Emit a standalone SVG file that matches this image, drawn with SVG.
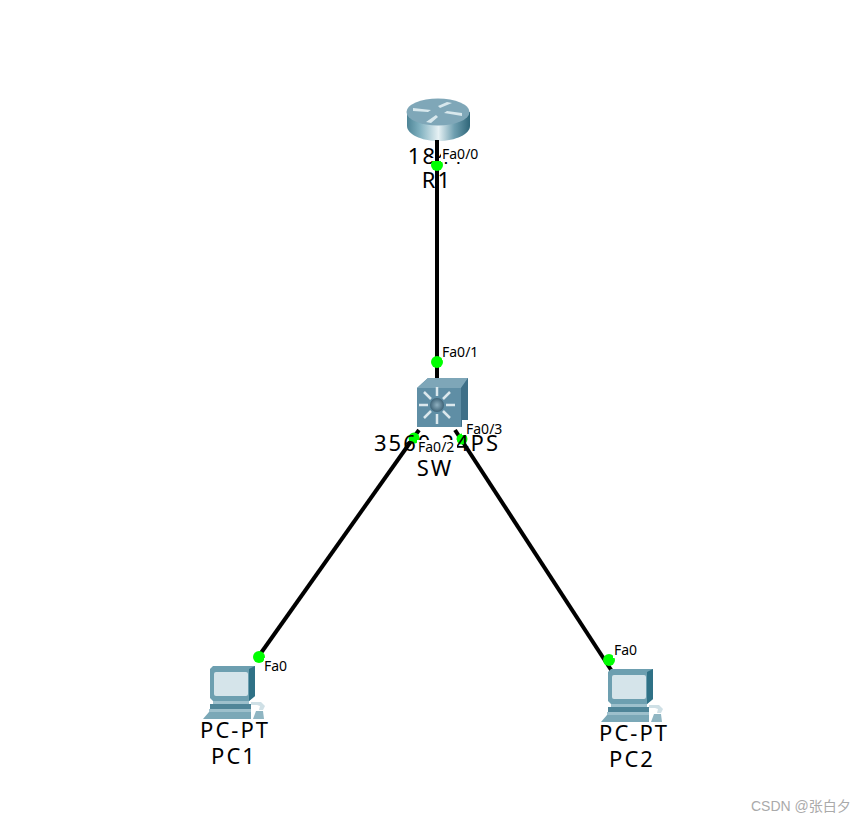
<svg xmlns="http://www.w3.org/2000/svg" width="866" height="822" viewBox="0 0 866 822">
<style>
.lbl{font-family:"Noto Sans","Liberation Sans",Arial,sans-serif;font-size:22px;fill:#000;text-anchor:middle;letter-spacing:2px}
.port{font-family:"Noto Sans","Liberation Sans",Arial,sans-serif;font-size:14px;fill:#000}
.bg{fill:#fff}
.link{stroke:#000;stroke-width:4;fill:none}
.dot{fill:#0f0}
</style>
<defs>
<linearGradient id="rg" x1="0" x2="1" y1="0" y2="0">
<stop offset="0" stop-color="#4d8496"/><stop offset=".2" stop-color="#7fb0bf"/><stop offset=".5" stop-color="#e6f1f4"/><stop offset=".75" stop-color="#6f9fb0"/><stop offset="1" stop-color="#2f6679"/>
</linearGradient>
<radialGradient id="hub"><stop offset="0" stop-color="#8fb0c0"/><stop offset="1" stop-color="#3f6478"/></radialGradient>
<g id="pc">
<path d="M11 1L14 -2H56V28L50 33H14L11 30Z" fill="#6d9fb0"/>
<path d="M50 1L56 -2V28L50 33Z" fill="#2f7186"/>
<rect x="15" y="4" width="34" height="24" rx="2" fill="#d5e4ea"/>
<path d="M14 33H50V36H14Z" fill="#9dc0cc"/>
<path d="M11 36H52V41H11Z" fill="#4f8598"/>
<path d="M10 41H52V44H10Z" fill="#9dc0cc"/>
<path d="M4 51L10 44H52V51Z" fill="#7ba8b7"/>
<path d="M52 34H62L66 38L64 42H60L61 38L58 37H52Z" fill="#cfe0e6"/>
<path d="M57 43H64L65 51H54Z" fill="#8fb5c2"/>
</g>
</defs>
<rect width="866" height="822" fill="#fff"/>
<g id="connectors">
<path class="link" d="M437 140V378"/>
<path class="link" d="M419 430L256 660"/>
<path class="link" d="M455 430L617 679"/>
</g>
<g id="R1">
<path d="M407 112V126C407 134 421 141 438 141C456 141 470 134 470 126V112Z" fill="url(#rg)"/>
<ellipse cx="438" cy="112" rx="31.500" ry="13.500" fill="#7fa7b8"/>
<path d="M413 108L431 110L428 112L413 111ZM462 116L444 113L447 111L462 113ZM452 103L440 108L438 106L447 102ZM426 122L436 115L438 117L431 123Z" fill="#d8e8ed"/>
<text class="lbl" x="437" y="164">1841</text>
<text class="lbl" x="437" y="188">R1</text>
<circle class="dot" cx="437" cy="165" r="6"/>
<rect class="bg" x="441" y="145" width="40" height="17"/>
<rect class="bg" x="431" y="158" width="12" height="3"/>
<path class="link" d="M437 140V161"/>
<text class="port" x="442" y="159">Fa0/0</text>
</g>
<g id="SW">
<path d="M417 388L428 378H468V420L462 427H417Z" fill="#5f8ea5"/>
<path d="M417 388L428 378H468L461 388Z" fill="#7ea6b8"/>
<path d="M461 388L468 378V420L461 427Z" fill="#3f7088"/>
<circle cx="437" cy="405" r="7" fill="url(#hub)"/>
<path d="M437 387V396M437 414V424M419 405H428M446 405H455M424 392L431 399M450 392L443 399M424 418L431 411M450 418L443 411" stroke="#dbe8ed" stroke-width="2.500" fill="none"/>
<circle class="dot" cx="414" cy="438" r="5.500"/>
<circle class="dot" cx="462" cy="439" r="5.500"/>
<text class="lbl" x="437" y="451">3560-24PS</text>
<text class="lbl" x="435" y="476">SW</text>
<rect class="bg" x="417" y="440" width="40" height="15"/>
<text class="port" x="418" y="452">Fa0/2</text>
<rect class="bg" x="462" y="420" width="44" height="15"/>
<text class="port" x="466" y="434">Fa0/3</text>
<circle class="dot" cx="437" cy="362" r="6"/>
<rect class="bg" x="442" y="345" width="40" height="15"/>
<text class="port" x="442" y="357">Fa0/1</text>
</g>
<g id="PC1">
<use href="#pc" x="199" y="668"/>
<circle class="dot" cx="259" cy="657" r="6"/>
<rect class="bg" x="264" y="658" width="26" height="15"/>
<text class="port" x="264" y="671">Fa0</text>
<text class="lbl" x="235" y="738">PC-PT</text>
<text class="lbl" x="234" y="764">PC1</text>
</g>
<g id="PC2">
<use href="#pc" x="597" y="671"/>
<circle class="dot" cx="609" cy="660" r="6"/>
<rect class="bg" x="613" y="643" width="26" height="15"/>
<text class="port" x="614" y="655">Fa0</text>
<text class="lbl" x="634" y="741">PC-PT</text>
<text class="lbl" x="632" y="767">PC2</text>
</g>
<text x="751" y="811" font-family="'Liberation Sans','Noto Sans CJK SC',sans-serif" font-size="14" fill="#aaa">CSDN @张白夕</text>
</svg>
